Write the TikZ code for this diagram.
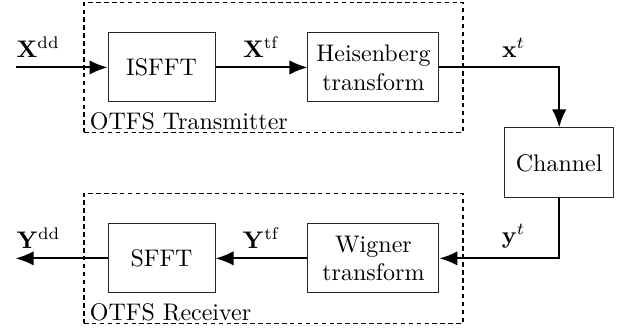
\documentclass[tikz,border=0pt]{standalone}
\usepackage{tikz}
\usetikzlibrary{arrows.meta, positioning, fit}
\usepackage{amsmath}

\begin{document}
\begin{tikzpicture}[
    node distance=38.3pt and 38.3pt,
    every node/.style={font=\normalsize},
    block/.style={rectangle, draw=black!85, line width=0.4pt, align=center,
                  minimum width=44.6pt, minimum height=28.75pt, inner sep=2pt},
    wide/.style={minimum width=54.6pt},
    group/.style={rectangle, draw, dash pattern=on 1.9pt off 1.4pt, line width=0.5pt,
                  inner xsep=9.8pt, inner ysep=12.5pt},
    arrow/.style={-{Latex[length=7.5pt, width=6pt]}, line width=0.8pt},
    sig/.style={inner sep=3.8pt},
]
\useasboundingbox (-67.3pt,28.1pt) rectangle (192.7pt,-110.6pt);

\node[block] (isfft) at (0,0) {ISFFT};
\node[block, wide, right=of isfft] (heis) {Heisenberg\\transform};
\node[block, below=50.4pt of isfft] (sfft) {SFFT};
\node[block, wide, right=of sfft] (wig) {Wigner\\transform};
\path (heis.east) -- (wig.east) coordinate[midway] (m);
\node[block, minimum width=45.4pt, minimum height=29.2pt, right=27pt of m] (chan) {Channel};

\node[group, fit=(isfft)(heis)] (tx) {};
\node[group, fit=(sfft)(wig)] (rx) {};
\node[anchor=south west, inner xsep=2.5pt, inner ysep=1.2pt] at (tx.south west) {OTFS Transmitter};
\node[anchor=south west, inner xsep=2.5pt, inner ysep=1.2pt] at (rx.south west) {OTFS Receiver};

\coordinate[left=of isfft] (in);
\coordinate[left=of sfft] (out);

\draw[arrow] (in) node[sig, above right, inner xsep=0pt] {$\mathbf{X}^{\mathrm{dd}}$} -- (isfft);
\draw[arrow] (isfft) -- node[sig, above] {$\mathbf{X}^{\mathrm{tf}}$} (heis);
\draw[arrow] (heis.east) -| node[sig, pos=0.31, above] {$\mathbf{x}^{t}$} (chan.north);
\draw[arrow] (chan.south) |- node[sig, pos=0.69, above] {$\mathbf{y}^{t}$} (wig.east);
\draw[arrow] (wig) -- node[sig, above] {$\mathbf{Y}^{\mathrm{tf}}$} (sfft);
\draw[arrow] (sfft) -- (out) node[sig, above right, inner xsep=0pt] {$\mathbf{Y}^{\mathrm{dd}}$};
\end{tikzpicture}
\end{document}
